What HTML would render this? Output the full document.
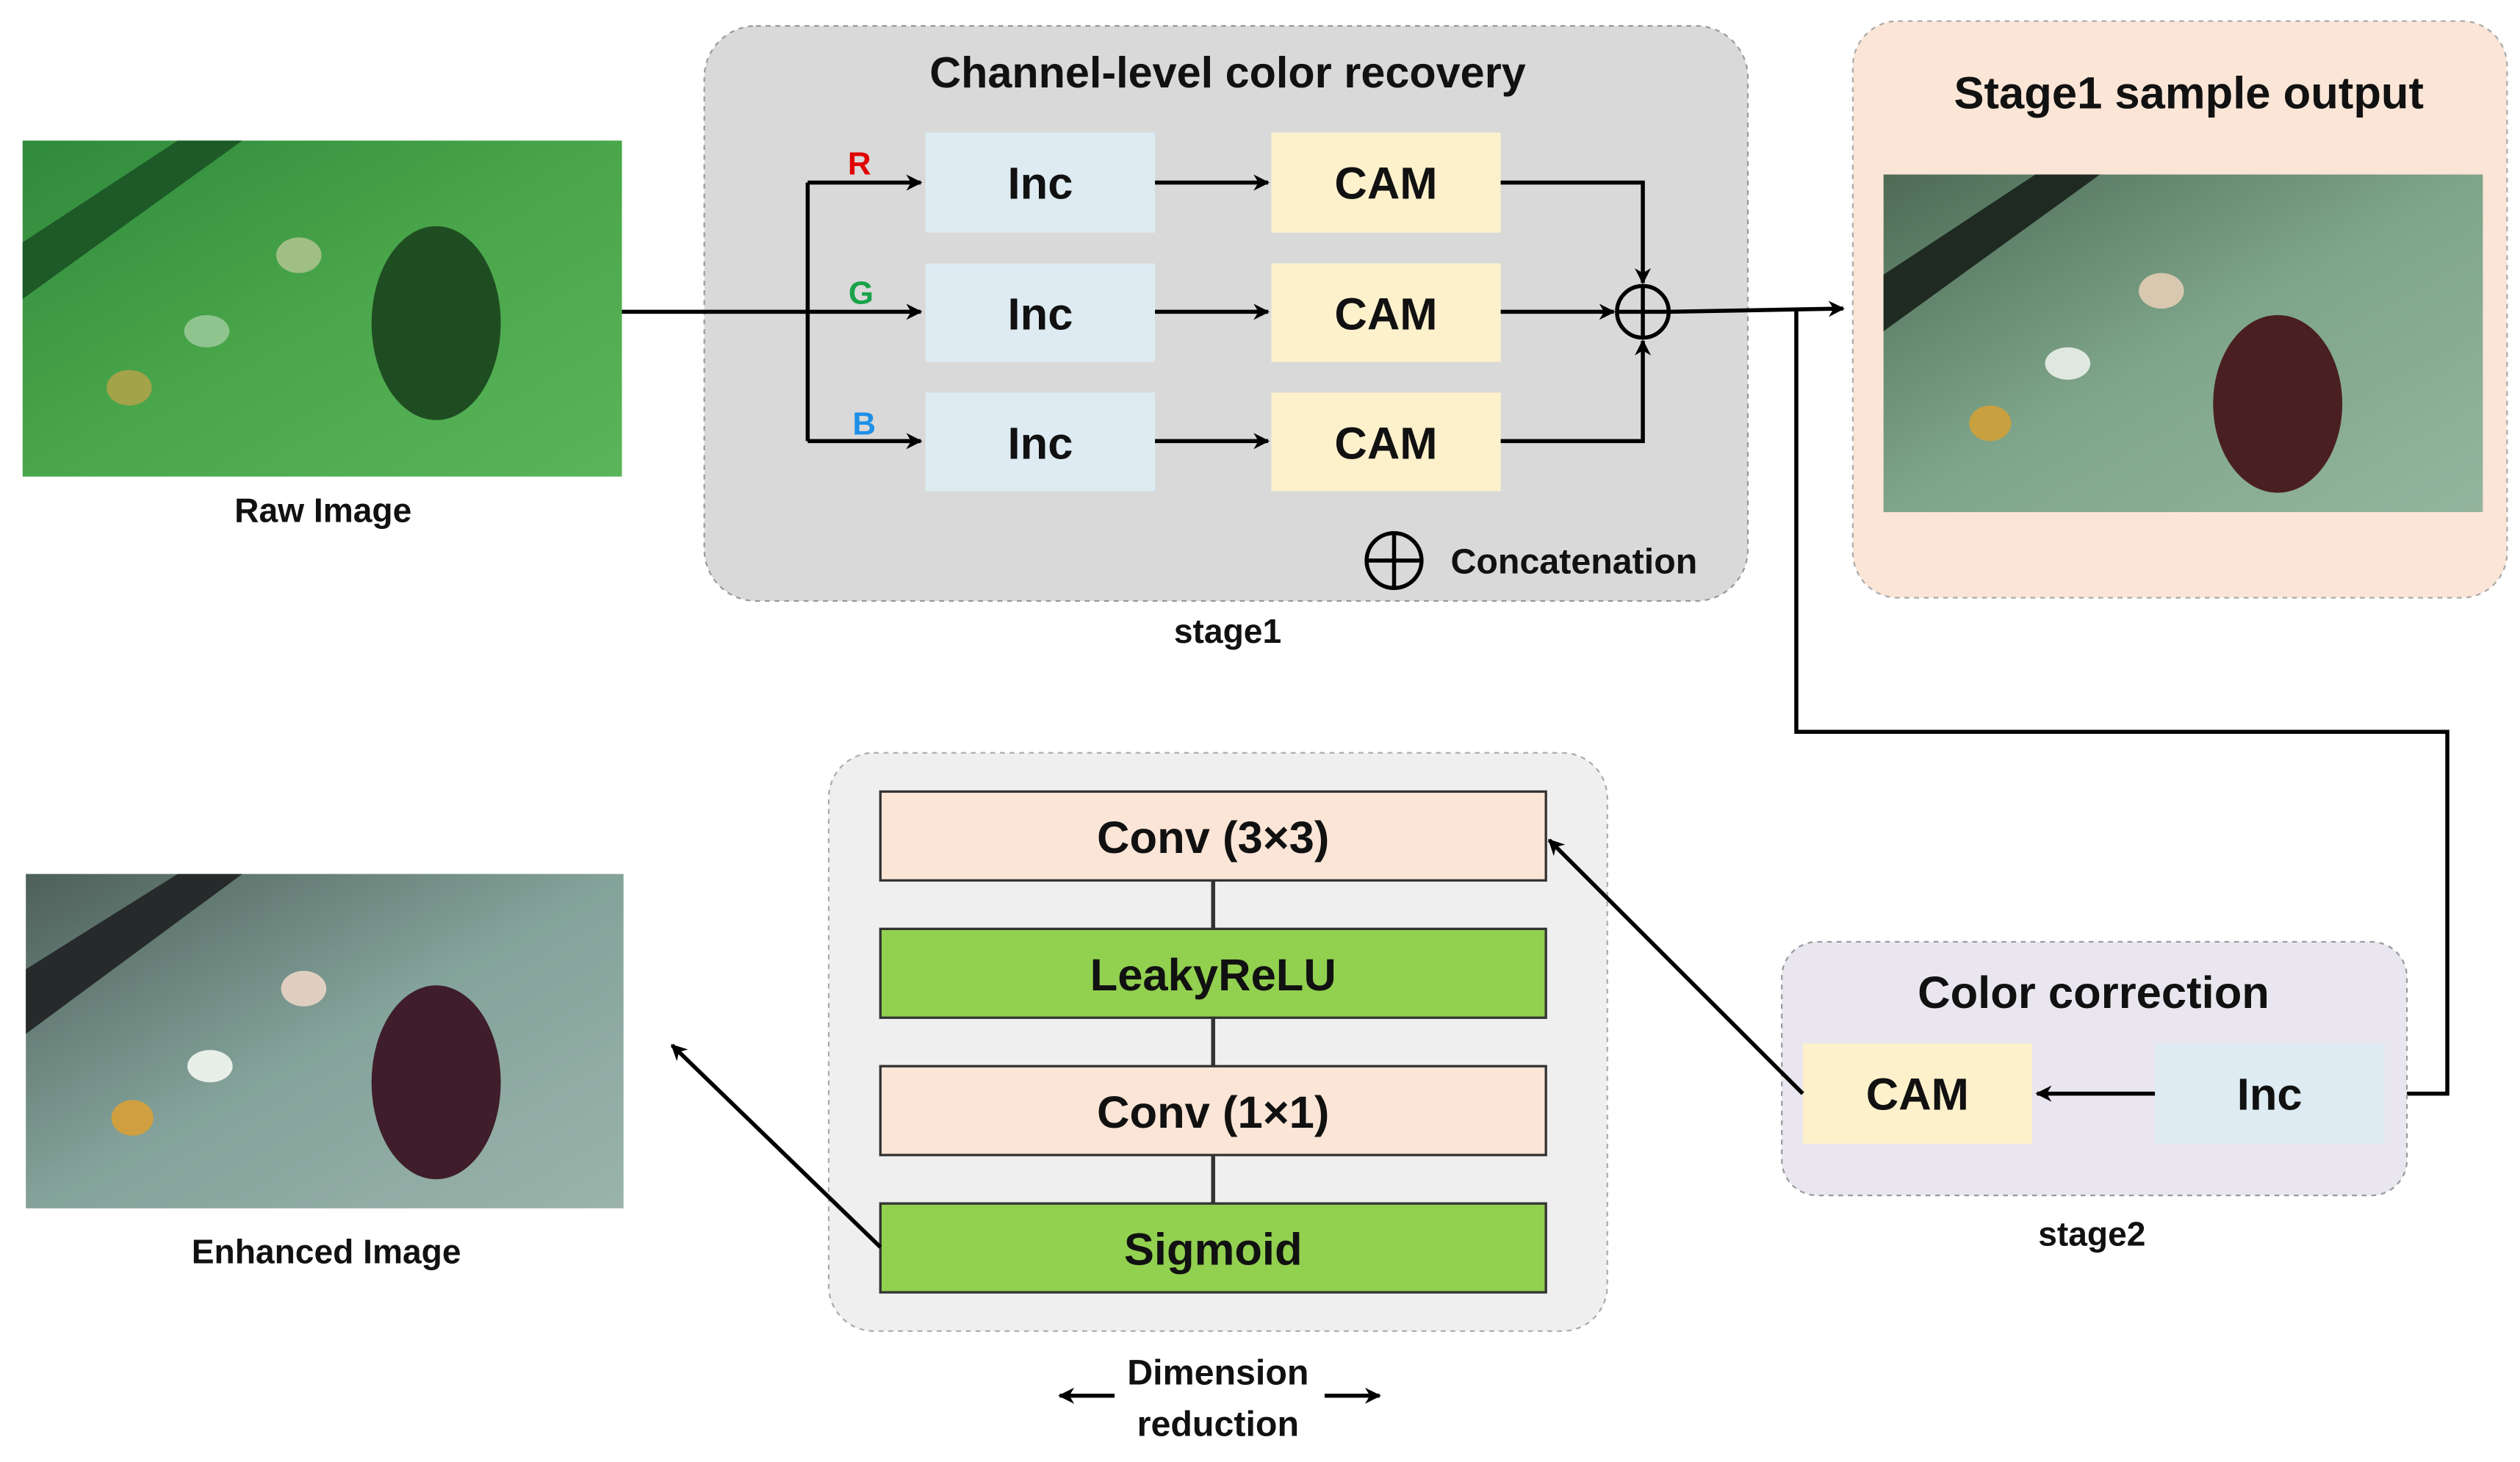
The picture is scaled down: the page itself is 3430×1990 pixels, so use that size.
<!DOCTYPE html>
<html><head><meta charset="utf-8"><style>
html,body{margin:0;padding:0;background:#fff;}
svg{display:block;}
text{font-family:"Liberation Sans",Arial,sans-serif;font-weight:bold;fill:#111;}
</style></head><body>
<svg width="3430" height="1990" viewBox="0 0 1560 905" xmlns="http://www.w3.org/2000/svg">
<defs>
<marker id="ah" markerWidth="10" markerHeight="10" refX="9" refY="5" orient="auto" markerUnits="userSpaceOnUse" viewBox="0 0 10 10">
<path d="M0,0 L10,5 L0,10 L3,5 z" fill="#000"/></marker>
<linearGradient id="g1" x1="0" y1="0" x2="1" y2="1"><stop offset="0" stop-color="#2f8a3c"/><stop offset="0.5" stop-color="#4aa64a"/><stop offset="1" stop-color="#5ab55a"/></linearGradient>
<linearGradient id="g2" x1="0" y1="0" x2="1" y2="1"><stop offset="0" stop-color="#4e6b55"/><stop offset="0.5" stop-color="#7ea58a"/><stop offset="1" stop-color="#94b59d"/></linearGradient>
<linearGradient id="g3" x1="0" y1="0" x2="1" y2="1"><stop offset="0" stop-color="#4e5f5a"/><stop offset="0.5" stop-color="#84a39a"/><stop offset="1" stop-color="#9ab3ab"/></linearGradient>
</defs>

<!-- Raw image -->
<rect x="14" y="87" width="371" height="208" fill="url(#g1)"/>
<polygon points="14,150 110,87 150,87 14,185" fill="#1d5a28"/>
<ellipse cx="270" cy="200" rx="40" ry="60" fill="#1f4d22"/>
<ellipse cx="185" cy="158" rx="14" ry="11" fill="#9fbf85"/>
<ellipse cx="80" cy="240" rx="14" ry="11" fill="#a3a34a"/>
<ellipse cx="128" cy="205" rx="14" ry="10" fill="#8fc48f"/>
<text x="200" y="323" font-size="21" text-anchor="middle">Raw Image</text>

<!-- Stage1 -->
<rect x="436" y="16" width="646" height="356" rx="32" fill="#d9d9d9" stroke="#999" stroke-dasharray="3,3"/>
<text x="760" y="54" font-size="27" text-anchor="middle">Channel-level color recovery</text>
<g font-size="28">
<rect x="573" y="82" width="142" height="62" fill="#deebf3"/><text x="644" y="123" text-anchor="middle">Inc</text>
<rect x="573" y="163" width="142" height="61" fill="#deebf3"/><text x="644" y="204" text-anchor="middle">Inc</text>
<rect x="573" y="243" width="142" height="61" fill="#deebf3"/><text x="644" y="284" text-anchor="middle">Inc</text>
<rect x="787" y="82" width="142" height="62" fill="#fdf1cc"/><text x="858" y="123" text-anchor="middle">CAM</text>
<rect x="787" y="163" width="142" height="61" fill="#fdf1cc"/><text x="858" y="204" text-anchor="middle">CAM</text>
<rect x="787" y="243" width="142" height="61" fill="#fdf1cc"/><text x="858" y="284" text-anchor="middle">CAM</text>
</g>
<g stroke="#000" stroke-width="2.5" fill="none">
<line x1="385" y1="193" x2="570" y2="193" marker-end="url(#ah)"/>
<line x1="500" y1="113" x2="500" y2="273"/>
<line x1="500" y1="113" x2="570" y2="113" marker-end="url(#ah)"/>
<line x1="500" y1="273" x2="570" y2="273" marker-end="url(#ah)"/>
<line x1="715" y1="113" x2="785" y2="113" marker-end="url(#ah)"/>
<line x1="715" y1="193" x2="785" y2="193" marker-end="url(#ah)"/>
<line x1="715" y1="273" x2="785" y2="273" marker-end="url(#ah)"/>
<polyline points="929,113 1017,113 1017,175" marker-end="url(#ah)"/>
<polyline points="929,273 1017,273 1017,211" marker-end="url(#ah)"/>
<line x1="929" y1="193" x2="999" y2="193" marker-end="url(#ah)"/>
<circle cx="1017" cy="193" r="16"/>
<line x1="1001" y1="193" x2="1033" y2="193"/><line x1="1017" y1="177" x2="1017" y2="209"/>
<line x1="1033" y1="193" x2="1141" y2="191" marker-end="url(#ah)"/>
<polyline points="1112,192 1112,453 1515,453 1515,677 1480,677" marker-end="url(#ah)"/>
<circle cx="863" cy="347" r="17"/>
<line x1="846" y1="347" x2="880" y2="347"/><line x1="863" y1="330" x2="863" y2="364"/>
</g>
<text x="532" y="108" font-size="20" text-anchor="middle" style="fill:#e00000">R</text>
<text x="533" y="188" font-size="20" text-anchor="middle" style="fill:#19a34a">G</text>
<text x="535" y="269" font-size="20" text-anchor="middle" style="fill:#1e90e8">B</text>
<text x="898" y="355" font-size="22">Concatenation</text>
<text x="760" y="398" font-size="21" text-anchor="middle">stage1</text>

<!-- Stage1 output -->
<rect x="1147" y="13" width="405" height="357" rx="28" fill="#fbe5d6" stroke="#aaa" stroke-dasharray="3,3"/>
<text x="1355" y="67" font-size="28" text-anchor="middle">Stage1 sample output</text>
<rect x="1166" y="108" width="371" height="209" fill="url(#g2)"/>
<polygon points="1166,170 1260,108 1300,108 1166,205" fill="#1e2a22"/>
<ellipse cx="1410" cy="250" rx="40" ry="55" fill="#4a1f22"/>
<ellipse cx="1338" cy="180" rx="14" ry="11" fill="#d8c8b0"/>
<ellipse cx="1232" cy="262" rx="13" ry="11" fill="#c8a040"/>
<ellipse cx="1280" cy="225" rx="14" ry="10" fill="#dfe8e0"/>

<!-- Stage2 -->
<rect x="1103" y="583" width="387" height="157" rx="22" fill="#e9e6ef" stroke="#999" stroke-dasharray="3,3"/>
<text x="1296" y="624" font-size="28" text-anchor="middle">Color correction</text>
<rect x="1116" y="646" width="142" height="62" fill="#fdf1cc"/><text x="1187" y="687" font-size="28" text-anchor="middle">CAM</text>
<rect x="1334" y="646" width="142" height="62" fill="#deebf3"/><text x="1405" y="687" font-size="28" text-anchor="middle">Inc</text>
<text x="1295" y="771" font-size="21" text-anchor="middle">stage2</text>

<!-- Dimension box -->
<rect x="513" y="466" width="482" height="358" rx="28" fill="#efefef" stroke="#aaa" stroke-dasharray="3,3"/>
<g stroke="#333" stroke-width="1.5">
<line x1="751" y1="545" x2="751" y2="745" stroke-width="2.5"/>
<rect x="545" y="490" width="412" height="55" fill="#fbe5d6"/>
<rect x="545" y="575" width="412" height="55" fill="#92d050"/>
<rect x="545" y="660" width="412" height="55" fill="#fbe5d6"/>
<rect x="545" y="745" width="412" height="55" fill="#92d050"/>
</g>
<g font-size="28" text-anchor="middle">
<text x="751" y="528">Conv (3×3)</text>
<text x="751" y="613">LeakyReLU</text>
<text x="751" y="698">Conv (1×1)</text>
<text x="751" y="783">Sigmoid</text>
</g>
<text x="754" y="857" font-size="22" text-anchor="middle">Dimension</text>
<text x="754" y="889" font-size="22" text-anchor="middle">reduction</text>

<g stroke="#000" stroke-width="2.5" fill="none">
<line x1="1334" y1="677" x2="1261" y2="677" marker-end="url(#ah)"/>
<line x1="1116" y1="677" x2="959" y2="520" marker-end="url(#ah)"/>
<line x1="545" y1="772" x2="416" y2="647" marker-end="url(#ah)"/>
<line x1="690" y1="864" x2="656" y2="864" marker-end="url(#ah)"/>
<line x1="820" y1="864" x2="854" y2="864" marker-end="url(#ah)"/>
</g>

<!-- Enhanced image -->
<rect x="16" y="541" width="370" height="207" fill="url(#g3)"/>
<polygon points="16,600 110,541 150,541 16,640" fill="#262a2a"/>
<ellipse cx="270" cy="670" rx="40" ry="60" fill="#3f1d2a"/>
<ellipse cx="188" cy="612" rx="14" ry="11" fill="#e0cfc0"/>
<ellipse cx="82" cy="692" rx="13" ry="11" fill="#d0a040"/>
<ellipse cx="130" cy="660" rx="14" ry="10" fill="#e8eee8"/>
<text x="202" y="782" font-size="21" text-anchor="middle">Enhanced Image</text>
</svg>
</body></html>
